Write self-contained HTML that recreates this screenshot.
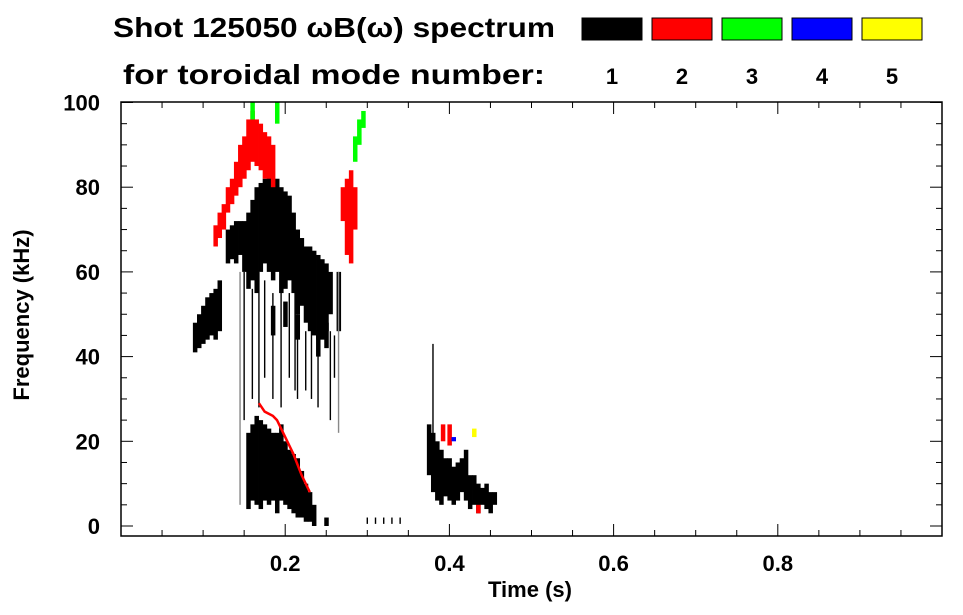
<!DOCTYPE html>
<html><head><meta charset="utf-8"><style>
body{margin:0;background:#fff}
svg{display:block;font-family:"Liberation Sans",Arial,sans-serif;font-weight:bold}
</style></head><body>
<svg id="c" width="963" height="615" viewBox="0 0 963 615">
<text x="113" y="37" font-size="28" textLength="442" lengthAdjust="spacingAndGlyphs">Shot 125050 ωB(ω) spectrum</text>
<text x="123" y="84" font-size="28" textLength="422" lengthAdjust="spacingAndGlyphs">for toroidal mode number:</text>
<g id="legend"></g>
<g id="marks"></g>
<g id="axes"></g>
<text x="530" y="597" font-size="22" text-anchor="middle">Time (s)</text>
<text transform="translate(29,315) rotate(-90)" font-size="22" text-anchor="middle">Frequency (kHz)</text>
</svg>
<script>
const modeColors=["#000000","#ff0000","#00ff00","#0000ff","#ffff00"];
const modeLabels=["1","2","3","4","5"];
const xTicks=[0.2,0.4,0.6,0.8];
const yTicks=[0,20,40,60,80,100];
// black (mode 1) columns
const blackT=[0.090,0.095,0.100,0.105,0.110,0.115,0.120,0.130,0.135,0.140,0.145,0.150,0.155,0.160,0.165,0.170,0.175,0.180,0.185,0.190,0.195,0.200,0.205,0.210,0.215,0.220,0.225,0.230,0.235,0.240,0.245,0.250,0.255,0.265,
 0.155,0.160,0.165,0.170,0.175,0.180,0.185,0.190,0.195,0.200,0.205,0.210,0.215,0.220,0.225,0.230,0.235,0.250,
 0.375,0.380,0.385,0.390,0.395,0.400,0.405,0.410,0.415,0.420,0.425,0.430,0.435,0.440,0.445,0.450,0.455,
 0.185,0.200,0.215,0.240,0.250];
const blackLo=[41,42,43,44,45,44,46,62,63,62,64,60,56,58,55,60,62,60,58,60,55,56,58,55,50,52,48,46,45,44,44,46,50,46,
 4,6,5,4,6,5,6,3,6,5,4,3,2,2,1,1,0,0,
 12,8,6,5,7,6,5,6,8,6,4,5,3,5,4,3,5,
 45,47,44,40,42];
const blackHi=[48,50,52,54,55,56,58,70,71,72,72,72,74,77,80,81,82,83,82,82,80,79,78,74,70,68,66,66,65,64,63,62,60,60,
 22,24,26,25,24,23,22,22,24,20,18,17,16,13,10,8,5,2,
 24,22,20,18,16,16,14,15,16,18,12,12,10,9,10,8,8,
 52,53,50,46,48];
// thin vertical streaks (mode 1)
const streakT=[0.145,0.150,0.160,0.168,0.175,0.185,0.195,0.205,0.212,0.215,0.225,0.232,0.240,0.255,0.260,0.265,0.380,0.300,0.310,0.320,0.330,0.340];
const streakLo=[5,25,30,28,35,30,28,35,32,30,32,30,28,25,35,22,20,0.5,0.5,0.5,0.5,0.5];
const streakHi=[60,60,56,60,58,55,58,55,56,50,46,50,44,46,45,60,43,2,2,2,2,2];
// other modes
const otherT=[0.115,0.120,0.125,0.130,0.135,0.140,0.145,0.150,0.155,0.160,0.165,0.170,0.175,0.180,0.185,0.270,0.275,0.280,0.285,0.392,0.400,0.435,
 0.160,0.190,0.285,0.290,0.295,0.405,0.430];
const otherLo=[66,68,70,74,76,78,80,82,84,86,85,84,82,82,80,72,64,62,70,20,19,3,96,95,86,90,94,20,21];
const otherHi=[71,74,76,80,82,86,90,92,96,98,96,95,93,92,90,80,82,84,80,24,24,5,100,100,92,96,98,21,23];
const otherMode=[2,2,2,2,2,2,2,2,2,2,2,2,2,2,2,2,2,2,2,2,2,2,3,3,3,3,3,4,5];
// red sweeping line
const lineT=[0.168,0.175,0.185,0.190,0.200,0.210,0.220,0.230];
const lineF=[29,27,26,25,21,17,12,8];

const X0=121,X1=942,Y0=536,YT=102;
const xs=t=>X0+t*(X1-X0)/1.0;
const ys=f=>526-f*4.235;
const NS="http://www.w3.org/2000/svg";
function mk(tag,attrs,parent){const e=document.createElementNS(NS,tag);for(const k in attrs)e.setAttribute(k,attrs[k]);parent.appendChild(e);return e;}
const marks=document.getElementById('marks'),axes=document.getElementById('axes'),leg=document.getElementById('legend');

modeLabels.forEach((l,i)=>{
 const r=mk('rect',{x:582+i*70,y:18,width:60,height:22,fill:modeColors[i],stroke:'#000','stroke-width':1},leg);
 
 
 const t=mk('text',{x:612+i*70,y:84,'font-size':22,'text-anchor':'middle'},leg);t.textContent=l;
 
 
});

blackT.forEach((t,i)=>{
 const r=mk('rect',{x:xs(t)-2,y:ys(blackHi[i]),width:4.5,height:ys(blackLo[i])-ys(blackHi[i]),fill:'#000'},marks);
 
 
});
streakT.forEach((t,i)=>{
 const r=mk('rect',{x:xs(t)-0.7,y:ys(streakHi[i]),width:1.4,height:ys(streakLo[i])-ys(streakHi[i]),fill:(i==0||i==15)?'#888':'#000'},marks);
 
 
});
otherT.forEach((t,i)=>{
 const r=mk('rect',{x:xs(t)-2,y:ys(otherHi[i]),width:4.5,height:ys(otherLo[i])-ys(otherHi[i]),fill:modeColors[otherMode[i]-1]},marks);
 
 
});
const pl=mk('polyline',{points:lineT.map((t,i)=>xs(t)+','+ys(lineF[i])).join(' '),fill:'none',stroke:'#f00','stroke-width':2.5},marks);



mk('rect',{x:X0,y:YT,width:X1-X0,height:Y0-YT,fill:'none',stroke:'#000','stroke-width':1.5},axes);
for(let k=0;k<=20;k++){const t=k*0.05;const x=xs(t);if(x>X1)break;const L=(k%4==0)?12:6;
 mk('line',{x1:x,y1:Y0,x2:x,y2:Y0-L,stroke:'#000'},axes);mk('line',{x1:x,y1:YT,x2:x,y2:YT+L,stroke:'#000'},axes);}
for(let f=0;f<=100;f+=5){const y=ys(f);const L=(f%20==0)?12:6;
 mk('line',{x1:X0,y1:y,x2:X0+L,y2:y,stroke:'#000'},axes);mk('line',{x1:X1,y1:y,x2:X1-L,y2:y,stroke:'#000'},axes);}
xTicks.forEach(v=>{const t=mk('text',{x:xs(v),y:571,'font-size':22,'text-anchor':'middle'},axes);t.textContent=v.toFixed(1);
 
 });
yTicks.forEach(v=>{const t=mk('text',{x:100,y:ys(v)+8,'font-size':22,'text-anchor':'end'},axes);t.textContent=v;
 
 });
</script>
</body></html>
